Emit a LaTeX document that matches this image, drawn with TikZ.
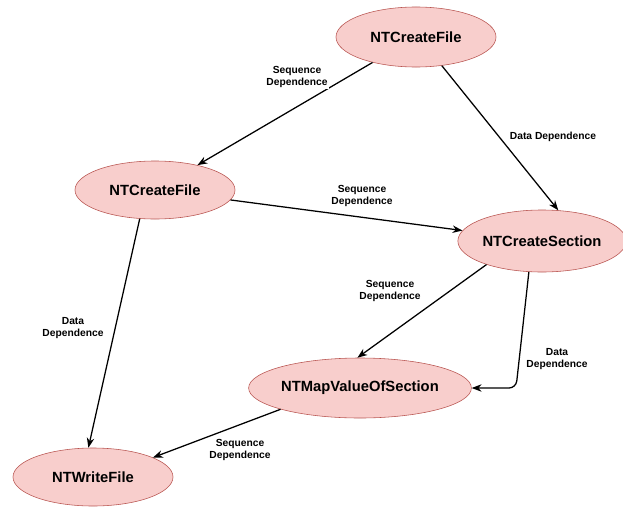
\documentclass[tikz,border=0pt]{standalone}
\usepackage{fontspec}
\setmainfont{Liberation Sans}
\usepackage{xcolor}
\usepackage{tikz}
\usetikzlibrary{shapes.geometric, arrows.meta}

\definecolor{callfill}{HTML}{F8CECC}
\definecolor{callline}{HTML}{B85450}

\begin{document}
\begin{tikzpicture}[
    x=0.025cm, y=-0.025cm,
    >=Stealth,
    % Styles
    callnode/.style={
      ellipse,
      draw=callline,
      fill=callfill,
      inner sep=0pt,
      minimum width=4cm,
      minimum height=1.5cm,
      font=\bfseries\fontsize{10.5}{12}\selectfont
    },
    deplabel/.style={
      fill=white,
      align=center,
      inner sep=1pt,
      font=\bfseries\fontsize{7.3}{8.6}\selectfont
    },
    arrow/.style={
      ->,
      line width=0.9pt,
      draw=black
    }
  ]

    \useasboundingbox (0,0) rectangle (623,506);

    % System call nodes
    \node (cfa) [callnode] at (416,37) {NTCreateFile};
    \node (cfb) [callnode, minimum height=1.45cm] at (155,190) {NTCreateFile};
    \node (csec) [callnode, minimum height=1.55cm] at (542,241) {NTCreateSection};
    \node (mapv) [callnode, minimum width=5.15cm] at (360,388) {NTMapValueOfSection};
    \node (wfile) [callnode, minimum height=1.45cm] at (93,477) {NTWriteFile};

    % Bend of the data edge into the map node
    \coordinate (bend) at (516,388);

    % Connections
    \draw [arrow] (cfa) -- (cfb);
    \draw [arrow] (cfa.-48) -- (csec.62);
    \draw [arrow] (cfb) -- (csec);
    \draw [arrow] (cfb.-118) -- (wfile.99);
    \draw [arrow] (csec.-157) -- (mapv.95);
    \draw [arrow, rounded corners=5pt] (csec.-113) -- (bend) -- (mapv.east);
    \draw [arrow] (mapv.-165) -- (wfile.18);

    % Edge labels
    \node (lseqa) [deplabel] at (297,77) {Sequence\\Dependence};
    \node (ldata) [deplabel] at (553,137) {Data Dependence};
    \node (lseqb) [deplabel] at (362,196) {Sequence\\Dependence};
    \node (ldatb) [deplabel] at (73,328) {Data\\Dependence};
    \node (lseqc) [deplabel] at (390,291) {Sequence\\Dependence};
    \node (ldatc) [deplabel] at (557,359) {Data\\Dependence};
    \node (lseqd) [deplabel] at (240,450) {Sequence\\Dependence};

  \end{tikzpicture}
\end{document}
